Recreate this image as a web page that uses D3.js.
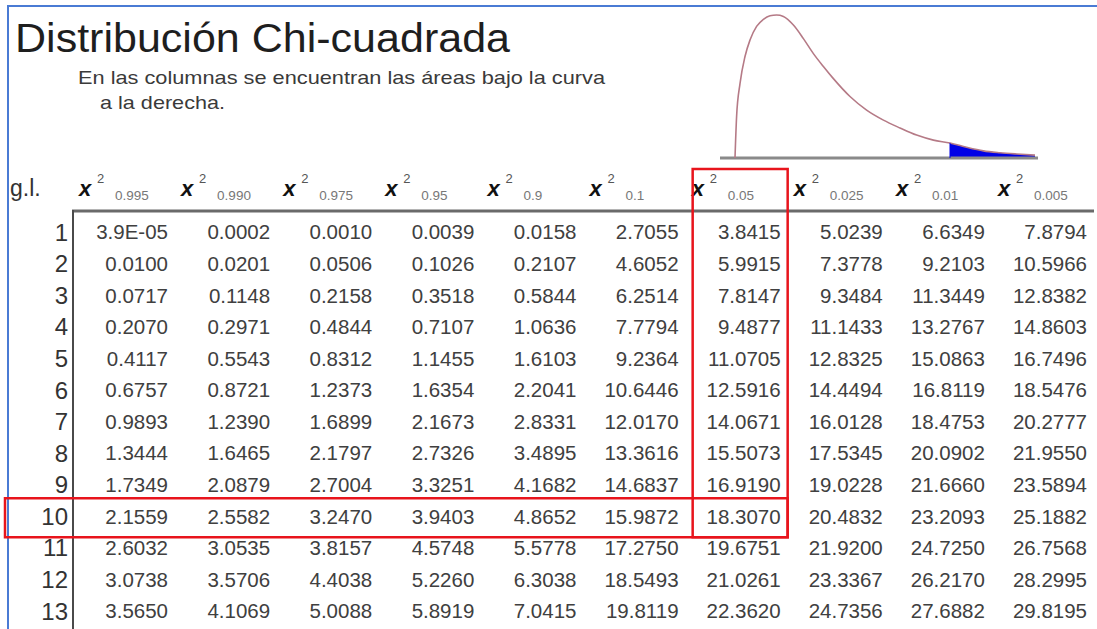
<!DOCTYPE html>
<html>
<head>
<meta charset="utf-8">
<script src="https://cdn.jsdelivr.net/npm/d3@7"></script>
<style>
    body { margin: 0; background: #fff; }
    svg { display: block; font-family: "Liberation Sans", Arial, sans-serif; }
</style>
</head>
<body>
<div id="chart"></div>
<script>
// degrees of freedom (rows) and right-tail areas (columns)
const degrees = [1, 2, 3, 4, 5, 6, 7, 8, 9, 10, 11, 12, 13];
const alphas = ["0.995", "0.990", "0.975", "0.95", "0.9", "0.1", "0.05", "0.025", "0.01", "0.005"];

// critical values, one array per row (kept as printed)
const tableValues = [
    ["3.9E-05", "0.0002", "0.0010", "0.0039", "0.0158", "2.7055", "3.8415", "5.0239", "6.6349", "7.8794"],
    ["0.0100", "0.0201", "0.0506", "0.1026", "0.2107", "4.6052", "5.9915", "7.3778", "9.2103", "10.5966"],
    ["0.0717", "0.1148", "0.2158", "0.3518", "0.5844", "6.2514", "7.8147", "9.3484", "11.3449", "12.8382"],
    ["0.2070", "0.2971", "0.4844", "0.7107", "1.0636", "7.7794", "9.4877", "11.1433", "13.2767", "14.8603"],
    ["0.4117", "0.5543", "0.8312", "1.1455", "1.6103", "9.2364", "11.0705", "12.8325", "15.0863", "16.7496"],
    ["0.6757", "0.8721", "1.2373", "1.6354", "2.2041", "10.6446", "12.5916", "14.4494", "16.8119", "18.5476"],
    ["0.9893", "1.2390", "1.6899", "2.1673", "2.8331", "12.0170", "14.0671", "16.0128", "18.4753", "20.2777"],
    ["1.3444", "1.6465", "2.1797", "2.7326", "3.4895", "13.3616", "15.5073", "17.5345", "20.0902", "21.9550"],
    ["1.7349", "2.0879", "2.7004", "3.3251", "4.1682", "14.6837", "16.9190", "19.0228", "21.6660", "23.5894"],
    ["2.1559", "2.5582", "3.2470", "3.9403", "4.8652", "15.9872", "18.3070", "20.4832", "23.2093", "25.1882"],
    ["2.6032", "3.0535", "3.8157", "4.5748", "5.5778", "17.2750", "19.6751", "21.9200", "24.7250", "26.7568"],
    ["3.0738", "3.5706", "4.4038", "5.2260", "6.3038", "18.5493", "21.0261", "23.3367", "26.2170", "28.2995"],
    ["3.5650", "4.1069", "5.0088", "5.8919", "7.0415", "19.8119", "22.3620", "24.7356", "27.6882", "29.8195"]
];

// the red highlight
const highlightCol = "0.05";
const highlightRow = 10;

// the density sketch
const curveX = [0, 0.08, 0.25, 0.5, 0.75, 1.08, 1.42, 1.75, 2.08, 2.42, 2.92, 3.42, 3.92, 4.42,
    4.92, 5.75, 6.58, 7.42, 8.25, 9.08, 9.92, 10.75, 11.58, 12.42, 13.25, 14.08, 15.0];
const curveY = [0, 0.058, 0.104, 0.142, 0.165, 0.184, 0.194, 0.199, 0.200, 0.198, 0.186, 0.167, 0.146, 0.128,
    0.111, 0.086, 0.067, 0.053, 0.042, 0.032, 0.025, 0.021, 0.015, 0.010, 0.0074, 0.0056, 0.004];
const tailStart = 10.75;

const W = 1097, H = 629;

/** Draws the chi-square table page. */
class ChiTable {
    constructor() {
        this.svg = d3.select("#chart").append("svg")
            .attr("width", W).attr("height", H);
        this.svg.append("rect").attr("width", W).attr("height", H).attr("fill", "#fff");

        // right edge of each column, centre of each row
        this.colScale = d3.scalePoint().domain(alphas).range([168, 1087]);
        this.rowScale = d3.scalePoint().domain(degrees).range([232, 611]);
    }

    drawFrame() {
        // blue page frame (top and left)
        this.svg.append("path")
            .attr("d", `M8,${H} L8,6 L${W},6`)
            .attr("fill", "none")
            .attr("stroke", "#4a7bd4")
            .attr("stroke-width", 2);
    }

    drawTitle() {
        this.svg.append("text")
            .attr("x", 15).attr("y", 52)
            .attr("font-size", 40)
            .attr("textLength", 495).attr("lengthAdjust", "spacingAndGlyphs")
            .attr("fill", "#1e1e1e")
            .text("Distribución Chi-cuadrada");

        this.svg.append("text")
            .attr("x", 78).attr("y", 84)
            .attr("font-size", 19)
            .attr("textLength", 527).attr("lengthAdjust", "spacingAndGlyphs")
            .attr("fill", "#3a3a3a")
            .text("En las columnas se encuentran las áreas bajo la curva");

        this.svg.append("text")
            .attr("x", 100).attr("y", 109)
            .attr("font-size", 19)
            .attr("textLength", 125).attr("lengthAdjust", "spacingAndGlyphs")
            .attr("fill", "#3a3a3a")
            .text("a la derecha.");
    }

    drawCurve() {
        let x = d3.scaleLinear().domain([0, 15]).range([735, 1035]);
        let y = d3.scaleLinear().domain([0, 0.2]).range([158, 15]);
        let pts = curveX.map((d, i) => [d, curveY[i]]);

        // shaded right tail
        let tail = pts.filter(d => d[0] >= tailStart);
        this.svg.append("path")
            .datum(tail)
            .attr("d", d3.area().x(d => x(d[0])).y0(y(0)).y1(d => y(d[1])).curve(d3.curveMonotoneX))
            .attr("fill", "#0000e6");

        // baseline
        this.svg.append("line")
            .attr("x1", x(-0.75)).attr("x2", x(15.15))
            .attr("y1", y(0)).attr("y2", y(0))
            .attr("stroke", "#8a8a8a").attr("stroke-width", 3);

        this.svg.append("path")
            .datum(pts)
            .attr("d", d3.line().x(d => x(d[0])).y(d => y(d[1])).curve(d3.curveMonotoneX))
            .attr("fill", "none")
            .attr("stroke", "#b57a86")
            .attr("stroke-width", 1.6);

        this.svg.append("line")
            .attr("x1", x(tailStart)).attr("x2", x(tailStart))
            .attr("y1", y(0)).attr("y2", y(0.021))
            .attr("stroke", "#0000e6").attr("stroke-width", 1);
    }

    drawTable() {
        let cs = this.colScale, rs = this.rowScale;

        // header
        this.svg.append("text")
            .attr("x", 10).attr("y", 196)
            .attr("font-size", 23).attr("fill", "#333")
            .text("g.l.");

        let head = this.svg.append("g").selectAll("g")
            .data(alphas).enter().append("g");
        head.append("text")
            .attr("x", d => cs(d) - 89).attr("y", 196)
            .attr("font-size", 22).attr("font-weight", "bold").attr("font-style", "italic")
            .attr("fill", "#111")
            .text("x");
        head.append("text")
            .attr("x", d => cs(d) - 71).attr("y", 183)
            .attr("font-size", 13).attr("fill", "#555")
            .text("2");
        head.append("text")
            .attr("x", d => cs(d) - 53).attr("y", 200)
            .attr("font-size", 13.5).attr("fill", "#777")
            .text(d => d);

        // table rules
        this.svg.append("line")
            .attr("x1", 72).attr("x2", 1094).attr("y1", 211).attr("y2", 211)
            .attr("stroke", "#6a6a6a").attr("stroke-width", 3);
        this.svg.append("line")
            .attr("x1", 73).attr("x2", 73).attr("y1", 210).attr("y2", H)
            .attr("stroke", "#4a4a4a").attr("stroke-width", 2);

        // row labels
        this.svg.append("g").selectAll("text")
            .data(degrees).enter().append("text")
            .attr("x", 68).attr("y", d => rs(d))
            .attr("dy", "0.36em")
            .attr("text-anchor", "end")
            .attr("font-size", 24).attr("fill", "#333")
            .text(d => d);

        // values
        let rows = this.svg.append("g").selectAll("g")
            .data(tableValues).enter().append("g");
        rows.selectAll("text")
            .data((row, i) => row.map((v, j) => ({ v: v, r: degrees[i], c: alphas[j] })))
            .enter().append("text")
            .attr("x", d => cs(d.c)).attr("y", d => rs(d.r))
            .attr("dy", "0.36em")
            .attr("text-anchor", "end")
            .attr("font-size", 20.5).attr("fill", "#404040")
            .text(d => d.v);
    }

    drawHighlight() {
        let cs = this.colScale, rs = this.rowScale;
        let right = cs(highlightCol) + 7;

        // column box
        this.svg.append("rect")
            .attr("x", cs(highlightCol) - 88).attr("y", 169)
            .attr("width", 95).attr("height", rs(highlightRow) + 21 - 169)
            .attr("fill", "none").attr("stroke", "#e8141c").attr("stroke-width", 2.5);

        // row box
        this.svg.append("rect")
            .attr("x", 5).attr("y", rs(highlightRow) - 18)
            .attr("width", right - 5).attr("height", 39)
            .attr("fill", "none").attr("stroke", "#e8141c").attr("stroke-width", 2.5);
    }
}

let page = new ChiTable();
page.drawFrame();
page.drawTitle();
page.drawCurve();
page.drawTable();
page.drawHighlight();
</script>
</body>
</html>
